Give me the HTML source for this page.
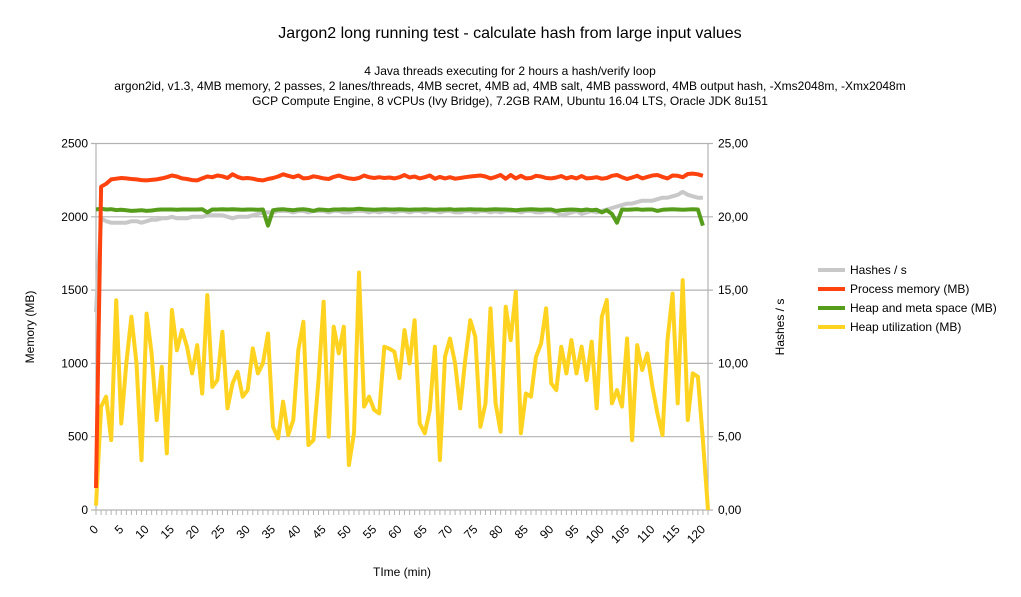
<!DOCTYPE html>
<html><head><meta charset="utf-8"><style>
body{margin:0;background:#fff;font-family:"Liberation Sans",sans-serif;}
svg{display:block}
</style></head><body>
<svg id="chart" width="1021" height="597" viewBox="0 0 1021 597" xmlns="http://www.w3.org/2000/svg" font-family="Liberation Sans, sans-serif">
<text x="510" y="38" text-anchor="middle" font-size="16">Jargon2 long running test - calculate hash from large input values</text>
<text x="510" y="75" text-anchor="middle" font-size="12">4 Java threads executing for 2 hours a hash/verify loop</text>
<text x="510" y="90" text-anchor="middle" font-size="12">argon2id, v1.3, 4MB memory, 2 passes, 2 lanes/threads, 4MB secret, 4MB ad, 4MB salt, 4MB password, 4MB output hash, -Xms2048m, -Xmx2048m</text>
<text x="510" y="105" text-anchor="middle" font-size="12">GCP Compute Engine, 8 vCPUs (Ivy Bridge), 7.2GB RAM, Ubuntu 16.04 LTS, Oracle JDK 8u151</text>
<g id="grid"></g>
<g id="axes"></g>
<g id="series"></g>
<text transform="translate(34,327) rotate(-90)" text-anchor="middle" font-size="12">Memory (MB)</text>
<text transform="translate(784,327) rotate(-90)" text-anchor="middle" font-size="12">Hashes / s</text>
<text x="402" y="576" text-anchor="middle" font-size="12">TIme (min)</text>
<g font-size="12">
<g><line x1="818" y1="270" x2="845" y2="270" stroke="#c8c8c8" stroke-width="4"/><text x="850" y="274">Hashes / s</text></g>
<g><line x1="818" y1="289" x2="845" y2="289" stroke="#ff420e" stroke-width="4"/><text x="850" y="293">Process memory (MB)</text></g>
<g><line x1="818" y1="308" x2="845" y2="308" stroke="#579d1c" stroke-width="4"/><text x="850" y="312">Heap and meta space (MB)</text></g>
<g><line x1="818" y1="327" x2="845" y2="327" stroke="#ffd320" stroke-width="4"/><text x="850" y="331">Heap utilization (MB)</text></g>
</g>
</svg>
<script>
const heapUtil=[30,705,773,477,1430,590,1000,1318,1000,340,1340,1068,614,977,386,1364,1090,1227,1114,932,1125,795,1466,840,886,1216,693,864,943,773,818,1102,932,1000,1204,568,489,739,511,614,1090,1284,443,477,886,1420,500,1250,1068,1250,307,523,1620,705,773,682,659,1114,1100,1080,900,1227,1000,1295,591,523,682,1114,341,1045,1170,1000,693,1023,1295,1182,568,727,1375,727,534,1386,1159,1489,523,795,773,1045,1136,1375,864,818,1114,932,1159,932,1114,886,1148,693,1318,1432,727,818,705,1170,477,1125,955,1068,841,659,511,1160,1477,727,1568,614,932,909,477,0];
const procMem=[150,2205,2225,2255,2260,2265,2262,2258,2255,2250,2248,2252,2255,2262,2270,2282,2275,2262,2258,2250,2248,2262,2275,2270,2282,2276,2265,2290,2272,2262,2265,2260,2252,2248,2258,2265,2275,2290,2280,2270,2282,2262,2265,2276,2270,2262,2258,2272,2282,2270,2262,2258,2265,2282,2270,2265,2270,2265,2268,2262,2270,2285,2268,2275,2262,2270,2282,2260,2272,2262,2270,2260,2265,2270,2275,2278,2282,2275,2262,2272,2285,2260,2285,2262,2280,2262,2265,2280,2275,2265,2262,2268,2278,2262,2272,2262,2278,2262,2265,2270,2260,2265,2280,2285,2270,2258,2268,2280,2262,2272,2282,2285,2272,2262,2282,2280,2270,2292,2295,2290,2280];
const heapMeta=[2050,2055,2050,2052,2046,2048,2044,2040,2042,2045,2040,2043,2048,2050,2050,2050,2048,2050,2050,2050,2050,2052,2030,2050,2050,2052,2050,2052,2050,2048,2050,2050,2048,2050,1940,2045,2050,2052,2048,2045,2050,2052,2048,2040,2050,2048,2045,2050,2050,2052,2050,2052,2055,2052,2050,2048,2050,2052,2050,2050,2052,2050,2048,2050,2050,2052,2050,2048,2050,2050,2052,2048,2050,2050,2052,2050,2050,2048,2050,2052,2050,2050,2048,2045,2048,2050,2052,2050,2048,2050,2050,2040,2045,2048,2050,2048,2045,2050,2045,2048,2030,2045,2020,1960,2050,2048,2050,2052,2048,2050,2050,2040,2048,2050,2052,2050,2048,2050,2052,2050,1940];
const hashes=[13.5,19.9,19.7,19.6,19.6,19.6,19.6,19.7,19.7,19.6,19.7,19.8,19.8,19.9,19.9,20.0,19.9,19.9,19.9,20.0,20.0,20.0,20.1,20.1,20.1,20.1,20.0,19.9,20.0,20.0,20.0,20.1,20.2,20.3,20.3,20.3,20.4,20.4,20.4,20.3,20.4,20.4,20.3,20.4,20.4,20.4,20.3,20.4,20.4,20.3,20.3,20.4,20.4,20.4,20.3,20.4,20.3,20.4,20.4,20.3,20.4,20.4,20.3,20.4,20.4,20.3,20.4,20.4,20.3,20.4,20.4,20.3,20.3,20.4,20.4,20.3,20.4,20.4,20.3,20.4,20.3,20.4,20.4,20.4,20.3,20.4,20.4,20.3,20.3,20.4,20.4,20.3,20.1,20.2,20.3,20.4,20.2,20.3,20.4,20.3,20.4,20.5,20.6,20.7,20.8,20.9,20.9,21.0,21.1,21.1,21.1,21.2,21.3,21.3,21.4,21.5,21.7,21.5,21.4,21.3,21.3];
const yTicks=[0,500,1000,1500,2000,2500];
const y2Ticks=["0,00","5,00","10,00","15,00","20,00","25,00"];
const xLabels=[0,5,10,15,20,25,30,35,40,45,50,55,60,65,70,75,80,85,90,95,100,105,110,115,120];

const NS="http://www.w3.org/2000/svg";
const X0=96,X1=708,Y0=510,Y1=143.5,NCAT=121;
function xs(t){return X0+t*(X1-X0)/NCAT;}
function ys(v){return Y0-v*(Y0-Y1)/2500;}
function ys2(v){return Y0-v*(Y0-Y1)/25;}
function mk(tag,attrs,parent){const e=document.createElementNS(NS,tag);for(const k in attrs)e.setAttribute(k,attrs[k]);parent.appendChild(e);return e;}
const grid=document.getElementById('grid'),axes=document.getElementById('axes'),series=document.getElementById('series');
yTicks.forEach((v,i)=>{
  const l=mk('line',{x1:X0-5,x2:X1+5,y1:ys(v),y2:ys(v),stroke:'#b3b3b3','stroke-width':1.2},grid);
  
  
  const t=mk('text',{x:X0-8,y:ys(v)+4,'text-anchor':'end','font-size':12},axes);
  t.textContent=v;
  
  
  const t2=mk('text',{x:X1+10,y:ys(v)+4,'font-size':12},axes);
  t2.textContent=y2Ticks[i];
  
  
});
let a=mk('line',{x1:X0,x2:X0,y1:Y1,y2:Y0,stroke:'#b3b3b3','stroke-width':1.2},axes);


a=mk('line',{x1:X1,x2:X1,y1:Y1,y2:Y0,stroke:'#b3b3b3','stroke-width':1.2},axes);


for(let i=0;i<=NCAT;i++){
  const tk=mk('line',{x1:xs(i),x2:xs(i),y1:Y0,y2:Y0+5,stroke:'#b3b3b3','stroke-width':1},axes);
  
  
}
xLabels.forEach(v=>{
  const x=xs(v)+3,y=Y0+20;
  const t=mk('text',{x:x,y:y,'text-anchor':'end','font-size':12,transform:`rotate(-45 ${x} ${y})`},axes);
  t.textContent=v;
  
  
});
function line(arr,f,color,name){
  const pts=arr.map((v,i)=>xs(i).toFixed(1)+','+f(v).toFixed(1)).join(' ');
  const p=mk('polyline',{points:pts,fill:'none',stroke:color,'stroke-width':4,'stroke-linejoin':'round'},series);
  
  
}
line(hashes,ys2,'#c8c8c8','hashes-line');
line(heapUtil,ys,'#ffd320','heap-utilization-line');
line(heapMeta,ys,'#579d1c','heap-meta-line');
line(procMem,ys,'#ff420e','process-memory-line');
</script>
</body></html>
